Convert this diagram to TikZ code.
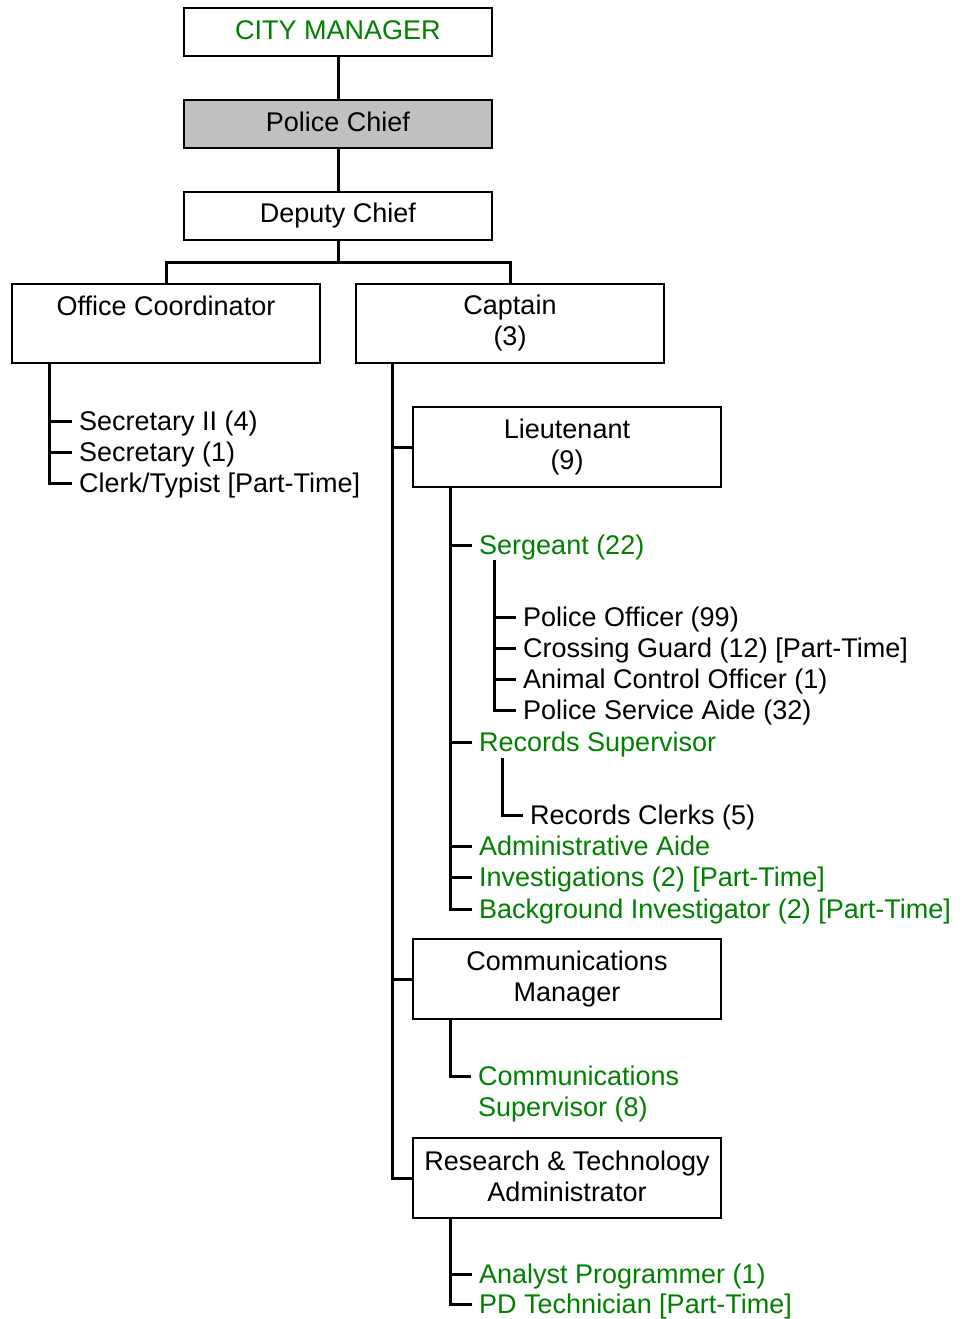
\documentclass[tikz,border=0pt]{standalone}
\usepackage{fontspec}
\setmainfont{Liberation Sans}
\definecolor{grn}{RGB}{0,128,0}
\definecolor{chiefgray}{RGB}{192,192,192}
\newcommand\bsone{\rule[-4pt]{0pt}{16pt}}
\newcommand\bsa{\rule[-4pt]{0pt}{22pt}}
\newcommand\bsb{\rule[-4pt]{0pt}{19pt}}
\begin{document}
\begin{tikzpicture}[x=1pt,y=-1pt,
  box/.style={draw,line width=1.5pt,minimum width=308pt,inner sep=0pt,align=center,font=\fontsize{27}{31}\selectfont},
  leaf/.style={anchor=west,inner xsep=7pt,inner ysep=0pt,text height=21pt,text depth=2pt,font=\fontsize{27}{31}\selectfont},
  conn/.style={line width=3pt}]
\fill[white] (0,0) rectangle (961,1319);
\useasboundingbox (0,0) rectangle (961,1319);

% boxes
\node[box,minimum height=48pt,text=grn] (cm) at (338,32) {\bsone CITY MANAGER};
\node[box,minimum height=48pt,fill=chiefgray] (pc) at (338,124) {\bsone Police Chief};
\node[box,minimum height=48pt] (dc) at (338,216) {\bsone Deputy Chief};
\node[box,minimum height=79pt] (oc) at (166,323.5) {\bsa Office Coordinator\\\bsb};
\node[box,minimum height=79pt] (cap) at (510,323.5) {\bsa Captain\\\bsb (3)};
\node[box,minimum height=80pt] (lt) at (567,447) {\bsa Lieutenant\\\bsb (9)};
\node[box,minimum height=80pt] (cmgr) at (567,979) {\bsa Communications\\\bsb Manager};
\node[box,minimum height=80pt] (rta) at (567,1178) {\bsa Research \& Technology\\\bsb Administrator};

% top connectors
\coordinate (j) at (338,262);
\draw[conn] (cm) -- (pc);
\draw[conn] (pc) -- (dc);
\draw[conn] (dc.south) -- (j);
\draw[conn] (oc.north) |- (j) -| (cap.north);

% office coordinator
\node[leaf] (s2) at (72,421) {Secretary II (4)};
\node[leaf] (s1) at (72,452) {Secretary (1)};
\node[leaf] (ct) at (72,483) {Clerk/Typist [Part-Time]};
\coordinate (ocT) at ([xshift=38pt]oc.south west);
\draw[conn] (ocT) |- (ct.west);
\foreach \n in {s2,s1} \draw[conn] (ocT |- \n.west) -- (\n.west);

% captain
\coordinate (capT) at ([xshift=37pt]cap.south west);
\draw[conn] (capT) |- (rta.west);
\draw[conn] (capT |- lt.west) -- (lt.west);
\draw[conn] (capT |- cmgr.west) -- (cmgr.west);

% lieutenant
\node[leaf,text=grn] (sgt) at (472,545) {Sergeant (22)};
\node[leaf] (po) at (516,617) {Police Officer (99)};
\node[leaf] (cg) at (516,648) {Crossing Guard (12) [Part-Time]};
\node[leaf] (aco) at (516,679) {Animal Control Officer (1)};
\node[leaf] (psa) at (516,710) {Police Service Aide (32)};
\node[leaf,text=grn] (rs) at (472,742) {Records Supervisor};
\node[leaf] (rc) at (523,815) {Records Clerks (5)};
\node[leaf,text=grn] (aa) at (472,846) {Administrative Aide};
\node[leaf,text=grn] (inv) at (472,877) {Investigations (2) [Part-Time]};
\node[leaf,text=grn] (bi) at (472,909) {Background Investigator (2) [Part-Time]};
\coordinate (ltT) at ([xshift=38pt]lt.south west);
\draw[conn] (ltT) |- (bi.west);
\foreach \n in {sgt,rs,aa,inv} \draw[conn] (ltT |- \n.west) -- (\n.west);
\coordinate (sgtT) at (494,560);
\draw[conn] (sgtT) |- (psa.west);
\foreach \n in {po,cg,aco} \draw[conn] (sgtT |- \n.west) -- (\n.west);
\coordinate (rsT) at (502,758);
\draw[conn] (rsT) |- (rc.west);

% communications manager
\node[leaf,text=grn] (cs1) at (471,1076) {Communications};
\node[leaf,text=grn] (cs2) at (471,1107) {Supervisor (8)};
\coordinate (cmT) at ([xshift=38pt]cmgr.south west);
\draw[conn] (cmT) |- (cs1.west);

% research & technology
\node[leaf,text=grn] (ap) at (472,1274) {Analyst Programmer (1)};
\node[leaf,text=grn] (pd) at (472,1304) {PD Technician [Part-Time]};
\coordinate (rtT) at ([xshift=38pt]rta.south west);
\draw[conn] (rtT) |- (pd.west);
\draw[conn] (rtT |- ap.west) -- (ap.west);
\end{tikzpicture}
\end{document}
